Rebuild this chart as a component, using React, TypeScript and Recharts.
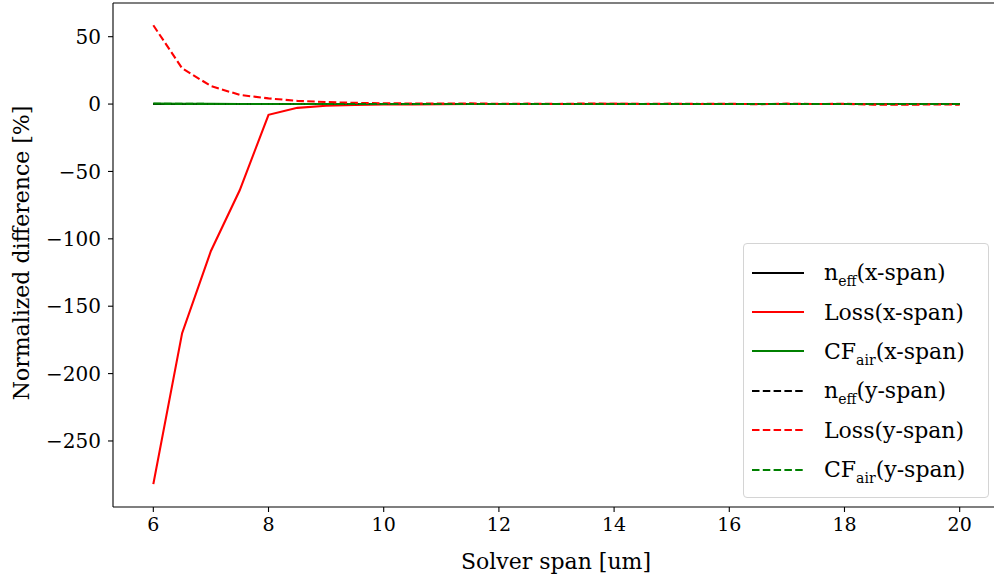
import { LineChart, Line, XAxis, YAxis, Legend, ReferenceLine, Label } from "recharts";

const FONT = "'DejaVu Serif', serif";

const span = [6, 6.5, 7, 7.5, 8, 8.5, 9, 9.5, 10, 10.5, 11, 11.5, 12, 12.5, 13, 13.5, 14, 14.5, 15, 15.5, 16, 16.5, 17, 17.5, 18, 18.5, 19, 19.5, 20];

const neffX = [0.04, 0.03, 0.02, 0.02, 0.01, 0.01, 0.01, 0, 0, 0, 0, 0, 0, 0, 0, 0, 0, 0, 0, 0, 0, 0, 0, 0, 0, 0, 0, 0, 0];
const lossX = [-282, -170, -109, -64, -8, -2.8, -1.2, -0.6, -0.3, -0.2, -0.1, 0.1, 0, 0.1, 0, 0.1, 0.2, 0, 0.1, 0, 0.1, 0, 0.1, 0, 0.1, 0, 0, 0.1, 0];
const cfX = [0.3, 0.2, 0.15, 0.1, 0.05, 0.03, 0.02, 0.01, 0, 0, 0, 0, 0, 0, 0, 0, 0, 0, 0, 0, 0, 0, 0, 0, 0, 0, 0, 0, 0];
const neffY = [0.05, 0.03, 0.02, 0.01, 0.01, 0.01, 0, 0, 0, 0, 0, 0, 0, 0, 0, 0, 0, 0, 0, 0, 0, 0, 0, 0, 0, 0, 0, 0, 0];
const lossY = [58.5, 26.5, 13.4, 6.8, 4.2, 2.4, 1.5, 0.9, 0.6, 0.4, 0.3, 0.5, 0.2, 0.3, 0.1, 0.4, 0.2, 0.1, 0.3, 0.1, 0.2, -0.1, 0.3, 0, 0.2, -0.4, -0.5, -0.3, -0.4];
const cfY = [0.2, 0.15, 0.1, 0.05, 0.03, 0.02, 0.01, 0, 0, 0, 0, 0, 0, 0, 0, 0, 0, 0, 0, 0, 0, 0, 0, 0, 0, 0, 0, 0, 0];

const xTicks = [6, 8, 10, 12, 14, 16, 18, 20];
const yTicks = [-250, -200, -150, -100, -50, 0, 50];

const series = [
  { key: "neffX", values: neffX, color: "#000000", dashed: false, main: "n", sub: "eff", rest: "(x-span)" },
  { key: "lossX", values: lossX, color: "#ff0000", dashed: false, main: "Loss", sub: "", rest: "(x-span)" },
  { key: "cfX", values: cfX, color: "#008000", dashed: false, main: "CF", sub: "air", rest: "(x-span)" },
  { key: "neffY", values: neffY, color: "#000000", dashed: true, main: "n", sub: "eff", rest: "(y-span)" },
  { key: "lossY", values: lossY, color: "#ff0000", dashed: true, main: "Loss", sub: "", rest: "(y-span)" },
  { key: "cfY", values: cfY, color: "#008000", dashed: true, main: "CF", sub: "air", rest: "(y-span)" },
];

const data = span.map((x, i) => {
  const row: Record<string, number> = { x };
  series.forEach((s) => (row[s.key] = s.values[i]));
  return row;
});

const DASH = "7.5 3.3";

const fmtY = (v: number) => (v < 0 ? "\u2212" + Math.abs(v) : String(v));

function LegendBox() {
  return (
    <div
      style={{
        border: "1px solid #d4d4d4",
        borderRadius: 4,
        background: "rgba(255,255,255,0.8)",
        padding: "9px 6px 8px 8px",
        fontFamily: FONT,
        fontSize: 22,
        color: "#000",
        boxSizing: "border-box",
      }}
    >
      {series.map((s) => (
        <div key={s.key} style={{ display: "flex", alignItems: "center", height: 39.4, whiteSpace: "nowrap" }}>
          <svg width={52} height={6} style={{ marginRight: 20, flex: "none" }}>
            <line x1={0} y1={3} x2={52} y2={3} stroke={s.color} strokeWidth={2.1} strokeDasharray={s.dashed ? DASH : undefined} />
          </svg>
          <span>
            {s.main}
            {s.sub && <span style={{ fontSize: 14, position: "relative", top: 6 }}>{s.sub}</span>}
            {s.rest}
          </span>
        </div>
      ))}
    </div>
  );
}

export default function App() {
  return (
    <div style={{ position: "fixed", left: 0, top: 0, width: 994, height: 582, overflow: "hidden", background: "#fff" }}>
      <LineChart width={1010} height={582} data={data} margin={{ top: 3, right: 10, bottom: 0, left: 0 }}>
        <XAxis
          dataKey="x"
          type="number"
          domain={[5.3, 20.7]}
          ticks={xTicks}
          allowDataOverflow
          height={75}
          tickSize={5}
          tickMargin={6}
          stroke="#000"
          strokeWidth={1.1}
          tick={{ fill: "#000", fontFamily: FONT, fontSize: 19 }}
        >
          <Label
            content={() => (
              <text x={556} y={561} textAnchor="middle" dominantBaseline="central" fontFamily={FONT} fontSize={22} fill="#000">
                Solver span [um]
              </text>
            )}
          />
        </XAxis>
        <YAxis
          type="number"
          domain={[-299, 75]}
          ticks={yTicks}
          allowDataOverflow
          width={113}
          tickSize={5}
          tickMargin={7}
          stroke="#000"
          strokeWidth={1.1}
          tickFormatter={fmtY}
          tick={{ fill: "#000", fontFamily: FONT, fontSize: 20 }}
        >
          <Label
            content={() => (
              <text
                x={21}
                y={253}
                transform="rotate(-90, 21, 253)"
                textAnchor="middle"
                dominantBaseline="central"
                fontFamily={FONT}
                fontSize={22}
                fill="#000"
              >
                Normalized difference [%]
              </text>
            )}
          />
        </YAxis>
        <ReferenceLine y={75} stroke="#000" strokeWidth={1.1} />
        <ReferenceLine x={20.7} stroke="#000" strokeWidth={1.1} />
        {series.map((s) => (
          <Line
            key={s.key}
            dataKey={s.key}
            type="linear"
            stroke={s.color}
            strokeWidth={2.1}
            strokeDasharray={s.dashed ? DASH : undefined}
            dot={false}
            activeDot={false}
            isAnimationActive={false}
          />
        ))}
        <Legend
          layout="vertical"
          align="center"
          verticalAlign="middle"
          content={<LegendBox />}
          wrapperStyle={{ left: 743, top: 243, width: 246 }}
        />
      </LineChart>
    </div>
  );
}
